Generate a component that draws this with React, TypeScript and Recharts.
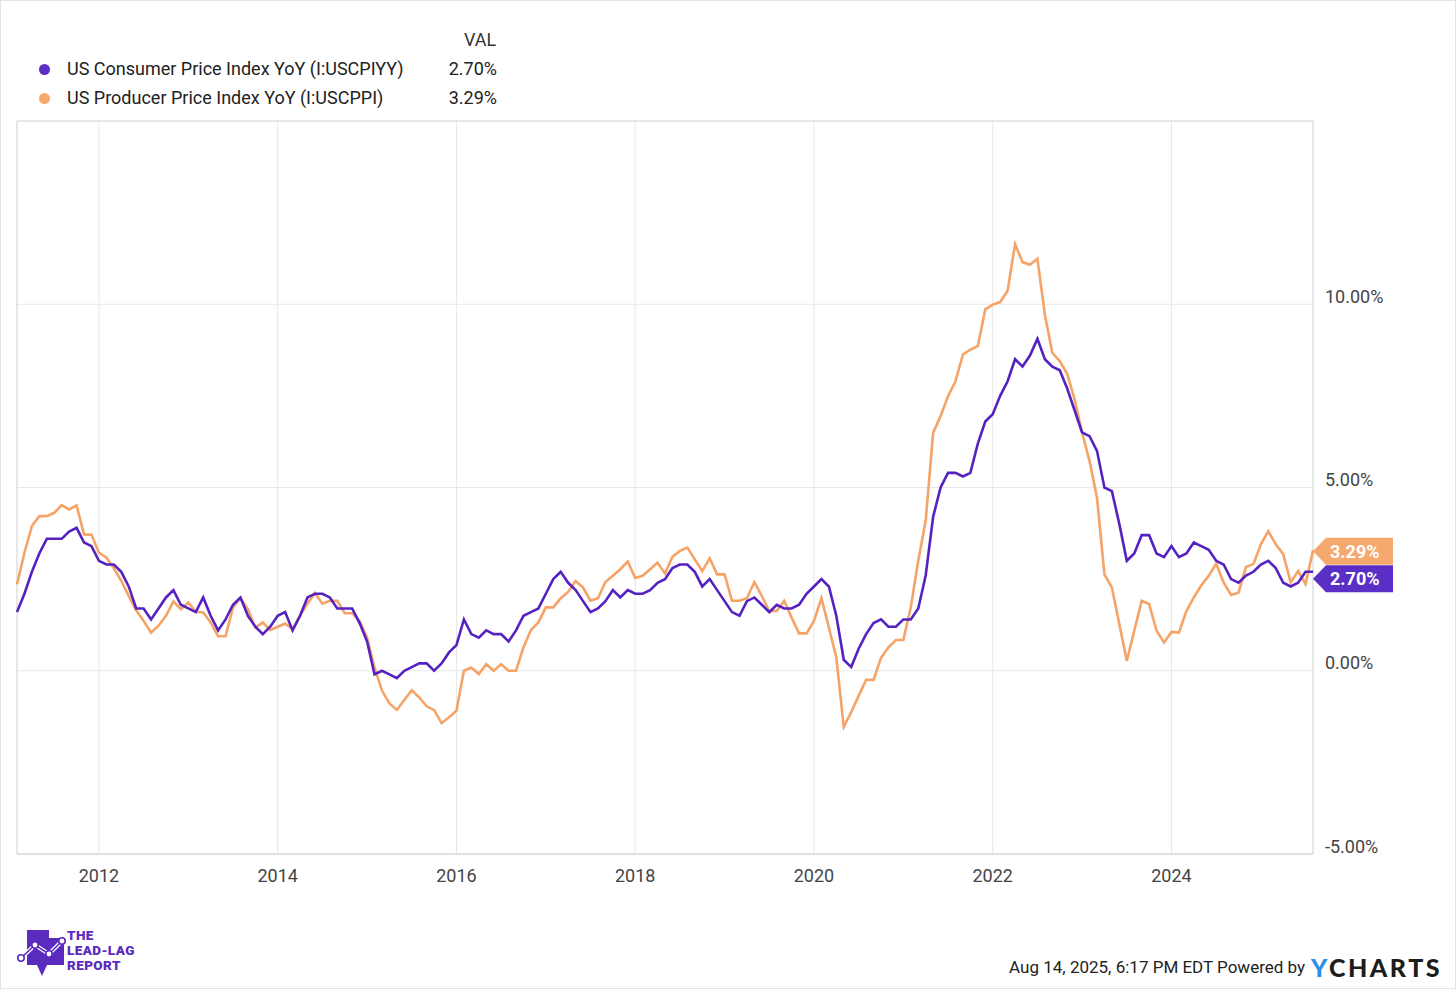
import React from 'react';
import {
  LineChart,
  Line,
  XAxis,
  YAxis,
  CartesianGrid,
  ReferenceArea,
  ReferenceDot,
} from 'recharts';

// monthly YoY readings, Jan 2011 .. Jul 2025 (month-end points)
const START_YEAR = 2011;

const cpiYoY = [
  1.6, 2.1, 2.7, 3.2, 3.6, 3.6, 3.6, 3.8, 3.9, 3.5, 3.4, 3.0, // 2011
  2.9, 2.9, 2.7, 2.3, 1.7, 1.7, 1.4, 1.7, 2.0, 2.2, 1.8, 1.7, // 2012
  1.6, 2.0, 1.5, 1.1, 1.4, 1.8, 2.0, 1.5, 1.2, 1.0, 1.2, 1.5, // 2013
  1.6, 1.1, 1.5, 2.0, 2.1, 2.1, 2.0, 1.7, 1.7, 1.7, 1.3, 0.8, // 2014
  -0.1, 0.0, -0.1, -0.2, 0.0, 0.1, 0.2, 0.2, 0.0, 0.2, 0.5, 0.7, // 2015
  1.4, 1.0, 0.9, 1.1, 1.0, 1.0, 0.8, 1.1, 1.5, 1.6, 1.7, 2.1, // 2016
  2.5, 2.7, 2.4, 2.2, 1.9, 1.6, 1.7, 1.9, 2.2, 2.0, 2.2, 2.1, // 2017
  2.1, 2.2, 2.4, 2.5, 2.8, 2.9, 2.9, 2.7, 2.3, 2.5, 2.2, 1.9, // 2018
  1.6, 1.5, 1.9, 2.0, 1.8, 1.6, 1.8, 1.7, 1.7, 1.8, 2.1, 2.3, // 2019
  2.5, 2.3, 1.5, 0.3, 0.1, 0.6, 1.0, 1.3, 1.4, 1.2, 1.2, 1.4, // 2020
  1.4, 1.7, 2.6, 4.2, 5.0, 5.4, 5.4, 5.3, 5.4, 6.2, 6.8, 7.0, // 2021
  7.5, 7.9, 8.5, 8.3, 8.6, 9.06, 8.5, 8.3, 8.2, 7.7, 7.1, 6.5, // 2022
  6.4, 6.0, 5.0, 4.9, 4.0, 3.0, 3.2, 3.7, 3.7, 3.2, 3.1, 3.4, // 2023
  3.1, 3.2, 3.5, 3.4, 3.3, 3.0, 2.9, 2.5, 2.4, 2.6, 2.7, 2.9, // 2024
  3.0, 2.8, 2.4, 2.3, 2.4, 2.7, 2.7, // 2025
];

const ppiYoY = [
  2.36, 3.22, 3.95, 4.22, 4.22, 4.31, 4.52, 4.4, 4.51, 3.72, 3.71, 3.22, // 2011
  3.09, 2.8, 2.45, 2.04, 1.65, 1.36, 1.04, 1.23, 1.5, 1.89, 1.68, 1.86, // 2012
  1.61, 1.59, 1.32, 0.94, 0.94, 1.73, 1.98, 1.68, 1.18, 1.32, 1.11, 1.2, // 2013
  1.29, 1.13, 1.5, 1.83, 2.12, 1.83, 1.91, 1.91, 1.57, 1.57, 1.36, 0.91, // 2014
  0.09, -0.54, -0.89, -1.07, -0.8, -0.53, -0.73, -0.97, -1.07, -1.43, -1.27, -1.09, // 2015
  0.0, 0.09, -0.09, 0.18, 0.0, 0.18, 0.0, 0.0, 0.64, 1.11, 1.32, 1.73, // 2016
  1.73, 1.98, 2.15, 2.45, 2.27, 1.91, 1.98, 2.42, 2.59, 2.77, 2.98, 2.53, // 2017
  2.59, 2.77, 2.95, 2.65, 3.11, 3.27, 3.36, 3.04, 2.72, 3.07, 2.63, 2.63, // 2018
  1.91, 1.91, 1.98, 2.42, 2.04, 1.63, 1.63, 1.91, 1.45, 1.02, 1.02, 1.36, // 2019
  1.98, 1.18, 0.36, -1.53, -1.13, -0.68, -0.25, -0.25, 0.35, 0.64, 0.84, 0.84, // 2020
  1.73, 3.0, 4.09, 6.49, 6.95, 7.49, 7.9, 8.63, 8.76, 8.86, 9.86, 9.99, // 2021
  10.06, 10.37, 11.64, 11.15, 11.08, 11.24, 9.72, 8.67, 8.45, 8.1, 7.4, 6.5, // 2022
  5.72, 4.72, 2.63, 2.27, 1.27, 0.27, 1.09, 1.91, 1.82, 1.09, 0.77, 1.06, // 2023
  1.04, 1.63, 2.0, 2.33, 2.59, 2.92, 2.41, 2.07, 2.13, 2.83, 2.91, 3.45, // 2024
  3.81, 3.45, 3.18, 2.41, 2.72, 2.36, 3.29, // 2025
];

const yearTicks = [2012, 2014, 2016, 2018, 2020, 2022, 2024];
const pctTicks = [-5, 0, 5, 10];

const PURPLE = '#5522c2';
const PURPLE_BADGE = '#5b2fc6';
const ORANGE = '#f6a367';
const ORANGE_BADGE = '#f7a86f';
const FONT = 'Roboto, "Noto Sans", sans-serif';

const data = cpiYoY.map((cpi, i) => ({
  t: START_YEAR + (i + 1) / 12,
  cpi,
  ppi: ppiYoY[i],
}));
const last = data[data.length - 1];

const fmt = (v: number) => `${v.toFixed(2)}%`;

const XTick = ({ x, y, payload }: any) => (
  <text x={x} y={y + 20} textAnchor="middle" fill="#444" fontSize={18} fontFamily={FONT}>
    {payload.value}
  </text>
);

const YTick = ({ y, payload }: any) => (
  <text x={1325} y={y - 1.5} textAnchor="start" fill="#444" fontSize={18} fontFamily={FONT}>
    {fmt(payload.value)}
  </text>
);

// value tag at the right edge of the plot
const badge = (fill: string, text: string, shift: number) => (props: any) => {
  const x = props.cx;
  const cy = props.cy + shift;
  const h = 13.5;
  return (
    <g>
      <polygon
        points={`${x},${cy} ${x + 13},${cy - h} ${x + 80},${cy - h} ${x + 80},${cy + h} ${x + 13},${cy + h}`}
        fill={fill}
      />
      <text x={x + 17} y={cy + 6.5} fill="#fff" fontSize={18} fontWeight={700} fontFamily={FONT}>
        {text}
      </text>
    </g>
  );
};

const Logo = () => (
  <svg width={130} height={56} style={{ position: 'absolute', left: 14, top: 924 }}>
    <path
      d="M12,5 L34,5 L34,13 L49,13 L49,40 L32,40 L27,51 L22,40 L12,40 Z"
      fill="#5b2bc0"
    />
    <polyline points="6,33 20,20 34,29 47,16" fill="none" stroke="#fff" strokeWidth={4} />
    <polyline points="6,33 20,20 34,29 47,16" fill="none" stroke="#5b2bc0" strokeWidth={1.5} />
    {[[6, 33], [20, 20], [34, 29], [47, 16]].map(([cx, cy]) => (
      <circle key={cx} cx={cx} cy={cy} r={3.2} fill="#fff" stroke="#5b2bc0" strokeWidth={1.6} />
    ))}
    <g fill="#5b2bc0" fontFamily={FONT} fontWeight={900} fontSize={13.5} letterSpacing={0.4}>
      <text x={52} y={15}>THE</text>
      <text x={52} y={30}>LEAD-LAG</text>
      <text x={52} y={45}>REPORT</text>
    </g>
  </svg>
);

export default function App() {
  return (
    <div
      style={{
        position: 'absolute',
        left: 0,
        top: 0,
        width: 1456,
        height: 989,
        boxSizing: 'border-box',
        border: '1px solid #e3e3e3',
        background: '#fff',
        fontFamily: FONT,
        color: '#222',
      }}
    >
      {/* legend */}
      <div style={{ position: 'absolute', left: 463, top: 28, fontSize: 18, color: '#333' }}>VAL</div>
      {[
        { name: 'US Consumer Price Index YoY (I:USCPIYY)', color: PURPLE_BADGE, val: last.cpi, top: 57 },
        { name: 'US Producer Price Index YoY (I:USCPPI)', color: ORANGE_BADGE, val: last.ppi, top: 86 },
      ].map((s) => (
        <div key={s.name} style={{ position: 'absolute', left: 0, top: s.top, width: 496, height: 22, fontSize: 18 }}>
          <span
            style={{
              position: 'absolute',
              left: 38,
              top: 6,
              width: 11,
              height: 11,
              borderRadius: '50%',
              background: s.color,
            }}
          />
          <span style={{ position: 'absolute', left: 66, top: 0, color: '#222' }}>{s.name}</span>
          <span style={{ position: 'absolute', right: 0, top: 0, color: '#222' }}>{fmt(s.val)}</span>
        </div>
      ))}

      <div style={{ position: 'absolute', left: -1, top: -1 }}>
        <LineChart
          width={1456}
          height={989}
          data={data}
          margin={{ top: 121, left: 17, right: 63, bottom: 105 }}
        >
          <CartesianGrid stroke="#e8e8e8" horizontalValues={pctTicks} verticalValues={yearTicks} />
          <XAxis
            dataKey="t"
            type="number"
            domain={['dataMin', 'dataMax']}
            ticks={yearTicks}
            height={30}
            axisLine={false}
            tickLine={false}
            tick={<XTick />}
          />
          <YAxis
            orientation="right"
            type="number"
            domain={[-5, 15]}
            ticks={pctTicks}
            width={80}
            axisLine={false}
            tickLine={false}
            tick={<YTick />}
          />
          <ReferenceArea
            x1={data[0].t}
            x2={last.t}
            y1={-5}
            y2={15}
            fill="none"
            stroke="#cfcfcf"
            strokeWidth={1}
          />
          <Line
            type="linear"
            dataKey="ppi"
            stroke={ORANGE}
            strokeWidth={2.6}
            dot={false}
            isAnimationActive={false}
          />
          <Line
            type="linear"
            dataKey="cpi"
            stroke={PURPLE}
            strokeWidth={2.6}
            dot={false}
            isAnimationActive={false}
          />
          <ReferenceDot x={last.t} y={last.ppi} shape={badge(ORANGE_BADGE, fmt(last.ppi), 1)} />
          <ReferenceDot x={last.t} y={last.cpi} shape={badge(PURPLE_BADGE, fmt(last.cpi), 7)} />
        </LineChart>
      </div>

      <Logo />

      <div
        style={{
          position: 'absolute',
          right: 13,
          top: 951,
          display: 'flex',
          alignItems: 'center',
          whiteSpace: 'nowrap',
        }}
      >
        <span style={{ fontSize: 17, color: '#222' }}>Aug 14, 2025, 6:17 PM EDT Powered by</span>
        <span
          style={{
            marginLeft: 6,
            fontFamily: 'Lato, "Noto Sans", sans-serif',
            fontWeight: 900,
            fontSize: 25,
            letterSpacing: 2.5,
            color: '#1c1c1c',
          }}
        >
          <span style={{ color: '#2b8ee6' }}>Y</span>CHARTS
        </span>
      </div>
    </div>
  );
}
